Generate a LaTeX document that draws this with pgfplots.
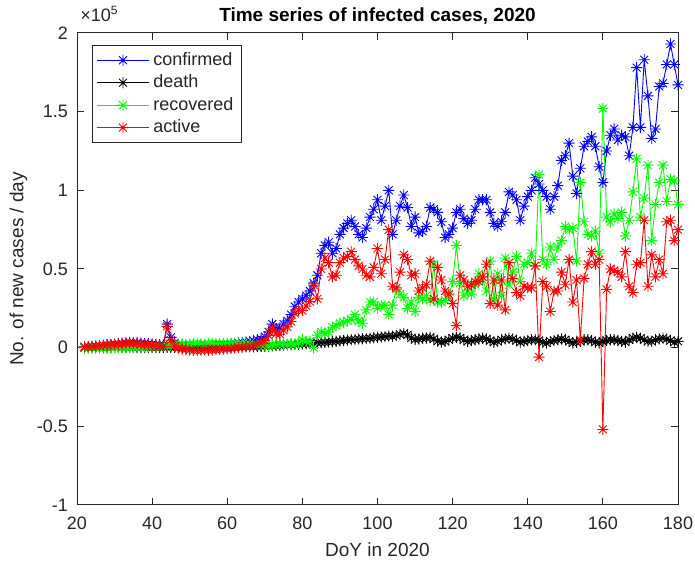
\documentclass[border=0pt]{standalone}
\usepackage{pgfplots}
\pgfplotsset{compat=1.18}
\usepackage{pgfplotstable}
\usepackage{fontspec}
\setmainfont{Liberation Sans}
\definecolor{axgray}{rgb}{0.15,0.15,0.15}
\pgfdeclareplotmark{mstar}{%
  \pgfpathmoveto{\pgfqpoint{0pt}{\pgfplotmarksize}}\pgfpathlineto{\pgfqpoint{0pt}{-\pgfplotmarksize}}%
  \pgfpathmoveto{\pgfqpoint{\pgfplotmarksize}{0pt}}\pgfpathlineto{\pgfqpoint{-\pgfplotmarksize}{0pt}}%
  \pgfpathmoveto{\pgfqpoint{.7071\pgfplotmarksize}{.7071\pgfplotmarksize}}\pgfpathlineto{\pgfqpoint{-.7071\pgfplotmarksize}{-.7071\pgfplotmarksize}}%
  \pgfpathmoveto{\pgfqpoint{-.7071\pgfplotmarksize}{.7071\pgfplotmarksize}}\pgfpathlineto{\pgfqpoint{.7071\pgfplotmarksize}{-.7071\pgfplotmarksize}}%
  \pgfusepathqstroke}
% values in units of 1e5 cases per day
\pgfplotstableread{
day conf death rec act
22 0.005 0.000 0.000 0.005
23 0.006 0.000 0.000 0.006
24 0.008 0.000 0.000 0.008
25 0.010 0.000 0.000 0.010
26 0.012 0.000 0.000 0.012
27 0.015 0.000 0.000 0.015
28 0.018 0.000 0.001 0.017
29 0.020 0.000 0.001 0.019
30 0.022 0.001 0.001 0.020
31 0.025 0.001 0.002 0.022
32 0.028 0.001 0.002 0.025
33 0.030 0.001 0.002 0.027
34 0.033 0.001 0.003 0.029
35 0.030 0.001 0.003 0.026
36 0.032 0.001 0.004 0.027
37 0.028 0.001 0.004 0.023
38 0.027 0.001 0.005 0.021
39 0.025 0.001 0.005 0.019
40 0.022 0.001 0.006 0.015
41 0.020 0.001 0.006 0.013
42 0.018 0.002 0.007 0.009
43 0.017 0.002 0.008 0.007
44 0.150 0.002 0.010 0.135
45 0.065 0.002 0.015 0.048
46 0.030 0.002 0.018 0.010
47 0.020 0.002 0.020 -0.002
48 0.015 0.002 0.022 -0.009
49 0.012 0.002 0.020 -0.010
50 0.010 0.003 0.022 -0.015
51 0.010 0.003 0.025 -0.018
52 0.012 0.003 0.028 -0.019
53 0.010 0.003 0.025 -0.018
54 0.012 0.003 0.024 -0.015
55 0.013 0.003 0.026 -0.016
56 0.015 0.003 0.028 -0.016
57 0.016 0.003 0.027 -0.014
58 0.018 0.004 0.026 -0.012
59 0.020 0.004 0.025 -0.009
60 0.022 0.004 0.027 -0.009
61 0.025 0.004 0.026 -0.005
62 0.027 0.004 0.025 -0.002
63 0.030 0.005 0.024 0.001
64 0.032 0.005 0.025 0.002
65 0.036 0.005 0.024 0.007
66 0.040 0.006 0.025 0.009
67 0.045 0.006 0.022 0.017
68 0.050 0.007 0.020 0.023
69 0.055 0.008 0.018 0.029
70 0.070 0.009 0.015 0.046
71 0.100 0.010 0.012 0.078
72 0.150 0.012 0.018 0.120
73 0.120 0.013 0.020 0.087
74 0.125 0.014 0.025 0.086
75 0.150 0.016 0.022 0.112
76 0.170 0.018 0.020 0.132
77 0.210 0.019 0.025 0.166
78 0.260 0.020 0.022 0.218
79 0.290 0.022 0.030 0.238
80 0.310 0.024 0.050 0.236
81 0.330 0.025 0.040 0.265
82 0.360 0.027 0.040 0.293
83 0.410 0.028 0.000 0.397
84 0.460 0.030 0.080 0.310
85 0.600 0.032 0.100 0.500
86 0.650 0.034 0.090 0.570
87 0.670 0.036 0.100 0.540
88 0.600 0.038 0.130 0.450
89 0.630 0.040 0.140 0.460
90 0.720 0.043 0.155 0.540
91 0.760 0.046 0.160 0.570
92 0.790 0.048 0.170 0.580
93 0.810 0.050 0.180 0.610
94 0.770 0.052 0.210 0.560
95 0.720 0.055 0.170 0.520
96 0.700 0.057 0.155 0.500
97 0.760 0.058 0.240 0.460
98 0.830 0.060 0.290 0.450
99 0.880 0.063 0.290 0.510
100 0.940 0.066 0.250 0.630
101 0.810 0.068 0.270 0.470
102 0.900 0.070 0.270 0.560
103 1.000 0.074 0.210 0.750
104 0.720 0.072 0.270 0.390
105 0.810 0.078 0.370 0.380
106 0.900 0.084 0.340 0.480
107 0.970 0.090 0.320 0.590
108 0.890 0.082 0.250 0.560
109 0.770 0.062 0.290 0.460
110 0.830 0.052 0.230 0.470
111 0.730 0.055 0.320 0.360
112 0.740 0.060 0.310 0.380
113 0.770 0.062 0.330 0.400
114 0.890 0.065 0.300 0.550
115 0.880 0.055 0.530 0.310
116 0.860 0.042 0.290 0.510
117 0.800 0.036 0.290 0.430
118 0.700 0.040 0.300 0.360
119 0.720 0.050 0.330 0.340
120 0.760 0.060 0.420 0.280
121 0.860 0.065 0.650 0.140
122 0.880 0.062 0.410 0.460
123 0.820 0.050 0.330 0.430
124 0.790 0.040 0.360 0.390
125 0.810 0.045 0.340 0.400
126 0.880 0.050 0.400 0.420
127 0.940 0.055 0.470 0.420
128 0.940 0.060 0.430 0.450
129 0.940 0.055 0.360 0.530
130 0.860 0.045 0.550 0.280
131 0.790 0.035 0.310 0.430
132 0.770 0.040 0.470 0.270
133 0.800 0.050 0.330 0.430
134 0.860 0.055 0.570 0.240
135 0.990 0.060 0.400 0.540
136 0.970 0.055 0.480 0.440
137 0.940 0.045 0.580 0.350
138 0.810 0.035 0.420 0.330
139 0.900 0.040 0.530 0.390
140 0.960 0.045 0.540 0.380
141 1.000 0.050 0.600 0.380
142 1.080 0.050 0.520 0.520
143 1.040 0.045 1.100 -0.060
144 1.000 0.035 0.560 0.420
145 0.960 0.030 0.530 0.390
146 0.880 0.040 0.640 0.230
147 0.960 0.045 0.560 0.360
148 1.030 0.050 0.640 0.360
149 1.190 0.055 0.680 0.480
150 1.220 0.050 0.770 0.400
151 1.300 0.040 0.750 0.560
152 1.090 0.030 0.760 0.290
153 0.980 0.035 0.550 0.430
154 1.140 0.040 1.050 0.050
155 1.280 0.050 0.800 0.440
156 1.310 0.050 0.720 0.530
157 1.340 0.045 0.710 0.610
158 1.280 0.035 0.740 0.530
159 1.150 0.030 0.600 0.560
160 1.050 0.040 1.520 -0.520
161 1.250 0.045 0.830 0.370
162 1.350 0.050 0.800 0.500
163 1.390 0.050 0.850 0.490
164 1.320 0.045 0.820 0.480
165 1.350 0.040 0.860 0.450
166 1.340 0.035 0.710 0.610
167 1.220 0.050 0.810 0.390
168 1.400 0.060 0.990 0.350
169 1.780 0.065 1.200 0.530
170 1.400 0.060 0.830 0.540
171 1.830 0.050 0.950 0.810
172 1.600 0.040 1.160 0.390
173 1.330 0.040 0.680 0.590
174 1.390 0.050 0.910 0.450
175 1.660 0.055 1.050 0.560
176 1.680 0.060 1.160 0.470
177 1.800 0.055 0.930 0.800
178 1.930 0.045 1.070 0.810
179 1.800 0.035 1.060 0.680
180 1.670 0.040 0.910 0.750
}\covid
\begin{document}
\begin{tikzpicture}
\begin{axis}[
  name=ax,
  scale only axis,
  width=300.5pt, height=236pt,
  xmin=20, xmax=180, ymin=-1, ymax=2,
  xtick={20,40,60,80,100,120,140,160,180},
  ytick={-1,-0.5,0,0.5,1,1.5,2},
  yticklabels={-1,-0.5,0,0.5,1,1.5,2},
  tick align=inside, tick pos=both,
  major tick length=3.5pt,
  axis line style={draw=axgray, line width=0.5pt},
  tick style={draw=axgray, line width=0.5pt},
  /pgf/number format/assume math mode=true,
  tick label style={font=\fontsize{9}{10}\selectfont, text=axgray},
  xticklabel style={yshift=-2.5pt},
  yticklabel style={xshift=-1pt},
  every axis title shift=0pt,
  title={Time series of infected cases, 2020},
  title style={font=\bfseries\fontsize{9.5}{11}\selectfont, at={(axis description cs:0.5,1)}, anchor=south, inner sep=0pt, yshift=4pt},
  xlabel={DoY in 2020},
  ylabel={No. of new cases / day},
  xlabel style={font=\fontsize{9.5}{11}\selectfont, text=axgray, at={(axis description cs:0.5,-0.08)}, anchor=north, inner sep=0pt},
  ylabel style={font=\fontsize{9.5}{11}\selectfont, text=axgray, at={(axis description cs:-0.082,0.5)}, anchor=south, inner sep=0pt},
  legend style={at={(0.025,0.975)}, anchor=north west, draw=axgray, line width=0.5pt, fill=white,
    font=\fontsize{9}{10}\selectfont, text=axgray, row sep=-0.8pt, inner xsep=2pt, inner ysep=1.5pt},
  legend cell align=left,
  legend image code/.code={\draw[#1,mark repeat=2,mark phase=2] plot coordinates {(0pt,0pt) (13pt,0pt) (26pt,0pt)};},
  every axis plot/.append style={line width=0.45pt, mark=mstar, mark size=2.8pt, mark options={solid, line width=0.45pt}},
]
\addplot[color={rgb,1:red,0;green,0;blue,1}] table[x=day, y=conf] {\covid};
\addlegendentry{confirmed}
\addplot[color=black] table[x=day, y=death] {\covid};
\addlegendentry{death}
\addplot[color={rgb,1:red,0;green,1;blue,0}] table[x=day, y=rec] {\covid};
\addlegendentry{recovered}
\addplot[color={rgb,1:red,1;green,0;blue,0}] table[x=day, y=act] {\covid};
\addlegendentry{active}
\end{axis}
\node[anchor=base west, inner sep=0pt, font=\fontsize{9}{10}\selectfont, text=axgray] at ([xshift=1.5pt,yshift=5.5pt]ax.north west) {×10\textsuperscript{5}};
\pgfresetboundingbox
\path ([xshift=-38.5pt,yshift=-30pt]ax.south west) rectangle ([xshift=8.5pt,yshift=16.5pt]ax.north east);
\end{tikzpicture}
\end{document}
